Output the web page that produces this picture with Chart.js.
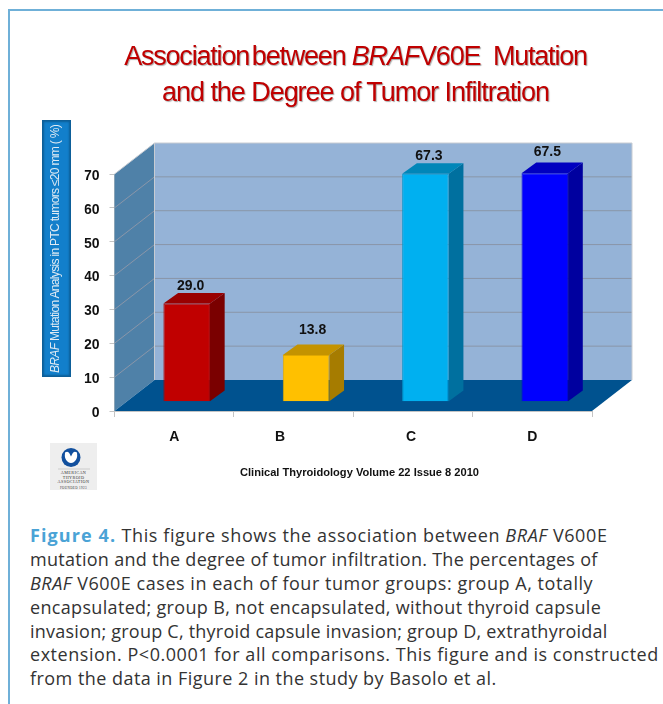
<!DOCTYPE html>
<html>
<head>
<meta charset="utf-8">
<script src="https://cdn.jsdelivr.net/npm/chart.js@4"></script>
<style>
    html, body { margin: 0; padding: 0; background: #fff; }
    #page { position: relative; width: 663px; height: 704px; overflow: hidden; }
    #frame { position: absolute; left: 8px; top: 9px; width: 700px; height: 800px; border: 2px solid #6fb0d8; }
    #chart { position: absolute; left: 0; top: 0; }
    #title {
        position: absolute; left: 0; top: 38px; width: 711px; text-align: center;
        font: 27px/36px "Liberation Sans", sans-serif; letter-spacing: -1.05px;
        color: #c00000; text-shadow: 1px 1px 1px #aaa;
    }
    #title .first { letter-spacing: -1.2px; }
    #title .tight { word-spacing: -3.5px; }
    #y-title {
        position: absolute; left: 42px; top: 120px; width: 29px; height: 257px; box-sizing: border-box;
        background: #127fcb; border: 1px solid #0d5f99; box-shadow: inset 0 0 2px 1px #0d5f99;
        color: #dfeaf3; font: 12px "Liberation Sans", sans-serif; letter-spacing: -0.68px;
        writing-mode: vertical-rl; transform: rotate(180deg); text-align: center; line-height: 25px;
        white-space: nowrap;
    }
    #source { position: absolute; left: 240px; top: 466px; font: bold 11.1px "Liberation Sans", sans-serif; color: #111; }
    #logo { position: absolute; left: 50px; top: 443px; width: 47px; height: 47px; background: #eeeeee; }
    #logo svg { display: block; }
    #caption {
        position: absolute; left: 30px; top: 524px; width: 640px;
        font: 18px/23.9px "Open Sans", sans-serif; color: #333; white-space: nowrap;
    }
    #caption div { height: 23.9px; }
    #caption b { color: #4aa3d6; font-weight: 700; letter-spacing: 1.1px; }
</style>
</head>
<body>
<div id="page">
    <div id="frame"></div>
    <canvas id="chart" width="663" height="500"></canvas>
    <div id="title"><span class="first"><span class="tight">Association between</span> <i>BRAF</i>V60E&nbsp; Mutation</span><br>and the Degree of Tumor Infiltration</div>
    <div id="y-title"><i>BRAF</i> Mutation Analysis in PTC tumors ≤20 mm ( %)</div>
    <div id="source">Clinical Thyroidology Volume 22 Issue 8 2010</div>
    <div id="logo">
        <svg width="47" height="47" viewBox="0 0 47 47">
            <circle cx="21" cy="14.5" r="9.5" fill="#12509e"/>
            <path d="M15 9.5 q3 -2 4.5 1 l1.5 3 l1.5 -3 q1.5 -3 4.5 -1 q1 7 -3 9.5 q-3 2 -6 0 q-4 -2.5 -3 -9.5z" fill="#fff"/>
            <line x1="8" y1="26" x2="40" y2="26" stroke="#ccc" stroke-width="1"/>
            <g font-family="Liberation Serif" font-size="4.2" letter-spacing="0.4" text-anchor="middle" fill="#333">
                <text x="23.5" y="31">AMERICAN</text>
                <text x="23.5" y="35.6">THYROID</text>
                <text x="23.5" y="40.2">ASSOCIATION</text>
                <text x="23.5" y="46" font-size="3.2">FOUNDED 1923</text>
            </g>
        </svg>
    </div>
    <div id="caption">
        <div style="letter-spacing:.61px"><b>Figure 4.</b> This figure shows the association between <i>BRAF</i> V600E</div>
        <div style="letter-spacing:.28px">mutation and the degree of tumor infiltration. The percentages of</div>
        <div style="letter-spacing:.53px"><i>BRAF</i> V600E cases in each of four tumor groups: group A, totally</div>
        <div style="letter-spacing:.33px">encapsulated; group B, not encapsulated, without thyroid capsule</div>
        <div style="letter-spacing:.23px">invasion; group C, thyroid capsule invasion; group D, extrathyroidal</div>
        <div style="letter-spacing:.54px">extension. P&lt;0.0001 for all comparisons. This figure and is constructed</div>
        <div style="letter-spacing:.46px">from the data in Figure 2 in the study by Basolo et al.</div>
    </div>
</div>

<script>
const groups = ['A', 'B', 'C', 'D'];
const mutationPct = [29.0, 13.8, 67.3, 67.5];
const yTicks = [0, 10, 20, 30, 40, 50, 60, 70];

const frontColors = ['#c00000', '#ffc000', '#00b0f0', '#0000ff'];
const topColors = ['#990000', '#c49300', '#0086b8', '#0000c0'];
const sideColors = ['#7a0000', '#a67c00', '#00709f', '#00009f'];
const edgeColors = ['#a80000', '#e0a800', '#0098cf', '#0000d8'];

// depth of the fake 3D box, and how far the bars sit inside it
const depth = { dx: 40, dy: -31 };
const barShift = { dx: 12.5, dy: -9.3 };
const barDepth = { dx: 14.7, dy: -10.6 };

// le etichette dei valori non sono allineate in modo regolare nell'originale
const labelNudgeX = [4, 6.6, 3.5, 2.5];
const labelGap = [3.4, 10.4, 3, 7];

function poly(ctx, pts, color) {
    ctx.fillStyle = color;
    ctx.beginPath();
    pts.forEach((p, i) => (i ? ctx.lineTo(p[0], p[1]) : ctx.moveTo(p[0], p[1])));
    ctx.closePath();
    ctx.fill();
}

const box3d = {
    id: 'box3d',
    beforeDatasetsDraw(chart) {
        const { ctx, chartArea: a, scales } = chart;
        const d = depth;
        // pareti
        poly(ctx, [[a.left + d.dx, a.top + d.dy], [a.right + d.dx, a.top + d.dy], [a.right + d.dx, a.bottom + d.dy], [a.left + d.dx, a.bottom + d.dy]], '#95b3d7');
        poly(ctx, [[a.left, a.top], [a.left + d.dx, a.top + d.dy], [a.left + d.dx, a.bottom + d.dy], [a.left, a.bottom]], '#4f81a8');
        poly(ctx, [[a.left, a.bottom], [a.left + d.dx, a.bottom + d.dy], [a.right + d.dx, a.bottom + d.dy], [a.right, a.bottom]], '#00528f');

        // griglia
        ctx.lineWidth = 1;
        yTicks.slice(1).forEach((t) => {
            const y = scales.y.getPixelForValue(t);
            ctx.strokeStyle = t === 70 ? '#c8ccd2' : '#8a96a8';
            ctx.beginPath();
            ctx.moveTo(a.left, y);
            ctx.lineTo(a.left + d.dx, y + d.dy);
            ctx.lineTo(a.right + d.dx, y + d.dy);
            ctx.stroke();
        });
        ctx.strokeStyle = '#c8ccd2';
        ctx.beginPath();
        ctx.moveTo(a.right + d.dx, a.top + d.dy);
        ctx.lineTo(a.right + d.dx, a.bottom + d.dy);
        ctx.moveTo(a.left + d.dx, a.top + d.dy);
        ctx.lineTo(a.left + d.dx, a.bottom + d.dy);
        ctx.stroke();
    },
    beforeDatasetDraw(chart, args) {
        const { ctx } = chart;
        ctx.save();
        ctx.translate(barShift.dx, barShift.dy);
        // facce laterali e superiori prima del fronte
        args.meta.data.forEach((bar, i) => {
            const l = bar.x - bar.width / 2;
            const r = bar.x + bar.width / 2;
            const b = barDepth;
            poly(ctx, [[r, bar.y], [r + b.dx, bar.y + b.dy], [r + b.dx, bar.base + b.dy], [r, bar.base]], sideColors[i]);
            poly(ctx, [[l, bar.y], [l + b.dx, bar.y + b.dy], [r + b.dx, bar.y + b.dy], [r, bar.y]], topColors[i]);
        });
    },
    afterDatasetDraw(chart) {
        chart.ctx.restore();
    },
    afterDatasetsDraw(chart) {
        const { ctx } = chart;
        ctx.save();
        ctx.font = 'bold 14px "Liberation Sans", sans-serif';
        ctx.fillStyle = '#111';
        ctx.textAlign = 'center';
        ctx.textBaseline = 'alphabetic';
        chart.getDatasetMeta(0).data.forEach((bar, i) => {
            const x = bar.x + barShift.dx + labelNudgeX[i];
            const y = bar.y + barShift.dy + barDepth.dy - labelGap[i];
            ctx.fillText(mutationPct[i].toFixed(1), x, y);
        });
        ctx.restore();
    }
};

new Chart(document.getElementById('chart').getContext('2d'), {
    type: 'bar',
    data: {
        labels: groups,
        datasets: [{
            data: mutationPct,
            backgroundColor: frontColors,
            borderColor: edgeColors,
            borderWidth: 1,
            categoryPercentage: 1,
            barPercentage: 0.39,
            clip: false
        }]
    },
    options: {
        responsive: false,
        animation: false,
        layout: { padding: { left: 84.5, right: 71, top: 174, bottom: 49 } },
        plugins: { legend: { display: false }, tooltip: { enabled: false } },
        scales: {
            x: {
                afterFit: (s) => { s.height = 40; },
                border: { color: '#c4c4c4' },
                grid: { offset: true, drawOnChartArea: false, color: '#c4c4c4', tickLength: 6 },
                ticks: {
                    color: '#111',
                    padding: 12,
                    maxRotation: 0,
                    font: { family: '"Liberation Sans"', weight: 'bold', size: 14 },
                    // le etichette B e C non sono centrate nell'originale
                    callback: (v, i) => groups[i] + ['', '       ', ' ', ''][i]
                }
            },
            y: {
                min: 0,
                max: 70,
                afterFit: (s) => { s.width = 30; },
                border: { color: '#c4c4c4' },
                grid: { drawOnChartArea: false, color: '#c4c4c4', tickLength: 5 },
                afterBuildTicks: (s) => { s.ticks = yTicks.map((value) => ({ value })); },
                ticks: {
                    color: '#111',
                    padding: 10,
                    labelOffset: 2,
                    font: { family: '"Liberation Sans"', weight: 'bold', size: 14 }
                }
            }
        }
    },
    plugins: [box3d]
});
</script>
</body>
</html>
